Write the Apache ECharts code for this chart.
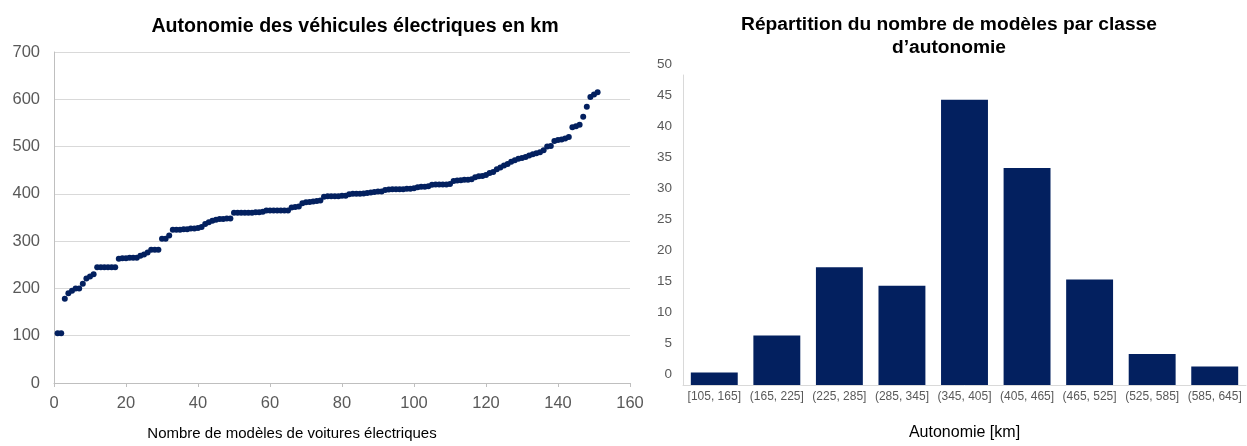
<!DOCTYPE html>
<html>
<head>
<meta charset="utf-8">
<script src="https://cdn.jsdelivr.net/npm/echarts@6/dist/echarts.min.js"></script>
<style>
  html, body { margin: 0; padding: 0; background: #fff; }
  #chart { width: 1247px; height: 446px; }
</style>
</head>
<body>
<div id="chart"></div>
<script>
// autonomy (km) of each model, sorted
const ranges = [
  105, 105, 178, 190, 195, 200, 200, 210, 221, 225,
  230, 245, 245, 245, 245, 245, 245, 263, 264, 264,
  265, 265, 265, 269, 272, 276, 282, 282, 282, 305,
  305, 312, 324, 324, 324, 325, 325, 327, 327, 328,
  330, 336, 340, 343, 345, 347, 347, 348, 348, 360,
  360, 360, 360, 360, 360, 361, 361, 362, 365, 365,
  365, 365, 365, 365, 365, 371, 372, 373, 380, 382,
  383, 384, 385, 386, 394, 395, 395, 395, 395, 396,
  396, 399, 400, 400, 400, 401, 402, 403, 404, 405,
  405, 408, 409, 410, 410, 410, 410, 411, 411, 412,
  414, 415, 415, 416, 419, 420, 420, 420, 420, 421,
  427, 428, 429, 430, 430, 431, 435, 437, 438, 440,
  444, 446, 452, 456, 460, 463, 468, 471, 474, 476,
  478, 481, 484, 486, 488, 492, 500, 501, 512, 514,
  515, 517, 520, 541, 543, 546, 563, 584, 605, 610,
  615
]

// histogram
const classes = ['[105, 165]', '(165, 225]', '(225, 285]', '(285, 345]', '(345, 405]',
  '(405, 465]', '(465, 525]', '(525, 585]', '(585, 645]']
const classCounts = [2, 8, 19, 16, 46, 35, 17, 5, 3]

const navy = '#03205f'
const grey = '#595959'
const font = 'Liberation Sans'

const chart = echarts.init(document.getElementById('chart'))

chart.setOption({
  animation: false,
  textStyle: { fontFamily: font },
  title: [
    {
      text: 'Autonomie des véhicules électriques en km',
      left: 350, top: 12, textAlign: 'center',
      textStyle: { fontSize: 19.6, fontWeight: 'bold', color: '#000', fontFamily: font }
    },
    {
      text: 'Répartition du nombre de modèles par classe\nd’autonomie',
      left: 944, top: 8, textAlign: 'center',
      textStyle: { fontSize: 19.2, fontWeight: 'bold', color: '#000', lineHeight: 23, fontFamily: font }
    }
  ],
  grid: [
    { left: 54, top: 52, right: 617, bottom: 58 },
    { left: 683, top: 75, right: 1, bottom: 57 }
  ],
  xAxis: [
    {
      gridIndex: 0, type: 'value', min: 0, max: 160, interval: 20,
      name: 'Nombre de modèles de voitures électriques',
      nameLocation: 'middle', nameGap: 43,
      nameTextStyle: { fontSize: 15, color: '#000', padding: [0, 100, 0, 0] },
      axisLine: { show: true, lineStyle: { color: '#bfbfbf' } },
      axisTick: { show: true, length: 4, lineStyle: { color: '#bfbfbf' } },
      axisLabel: { fontSize: 16.5, color: grey, margin: 12 },
      splitLine: { show: false }
    },
    {
      gridIndex: 1, type: 'category', data: classes,
      name: 'Autonomie [km]',
      nameLocation: 'middle', nameGap: 40,
      nameTextStyle: { fontSize: 16, color: '#000' },
      axisLine: { show: true, lineStyle: { color: '#d9d9d9' } },
      axisTick: { show: false },
      axisLabel: { fontSize: 12, color: grey, margin: 6, interval: 0 }
    }
  ],
  yAxis: [
    {
      gridIndex: 0, type: 'value', min: 0, max: 700, interval: 100,
      axisLine: { show: true, lineStyle: { color: '#bfbfbf' } },
      axisTick: { show: false },
      axisLabel: { fontSize: 16.5, color: grey, margin: 14 },
      splitLine: { lineStyle: { color: '#d9d9d9' } }
    },
    {
      gridIndex: 1, type: 'value', min: 0, max: 50, interval: 5,
      axisLine: { show: true, lineStyle: { color: '#d9d9d9' } },
      axisTick: { show: false },
      axisLabel: { fontSize: 13.5, color: grey, margin: 11, verticalAlign: 'bottom', padding: [0, 0, 4, 0] },
      splitLine: { show: false }
    }
  ],
  series: [
    {
      type: 'scatter', xAxisIndex: 0, yAxisIndex: 0,
      symbolSize: 6,
      itemStyle: { color: navy, opacity: 1 },
      data: ranges.map((v, i) => [i + 1, v])
    },
    {
      type: 'bar', xAxisIndex: 1, yAxisIndex: 1,
      barCategoryGap: '25%',
      itemStyle: { color: navy },
      data: classCounts
    }
  ]
})
</script>
</body>
</html>
